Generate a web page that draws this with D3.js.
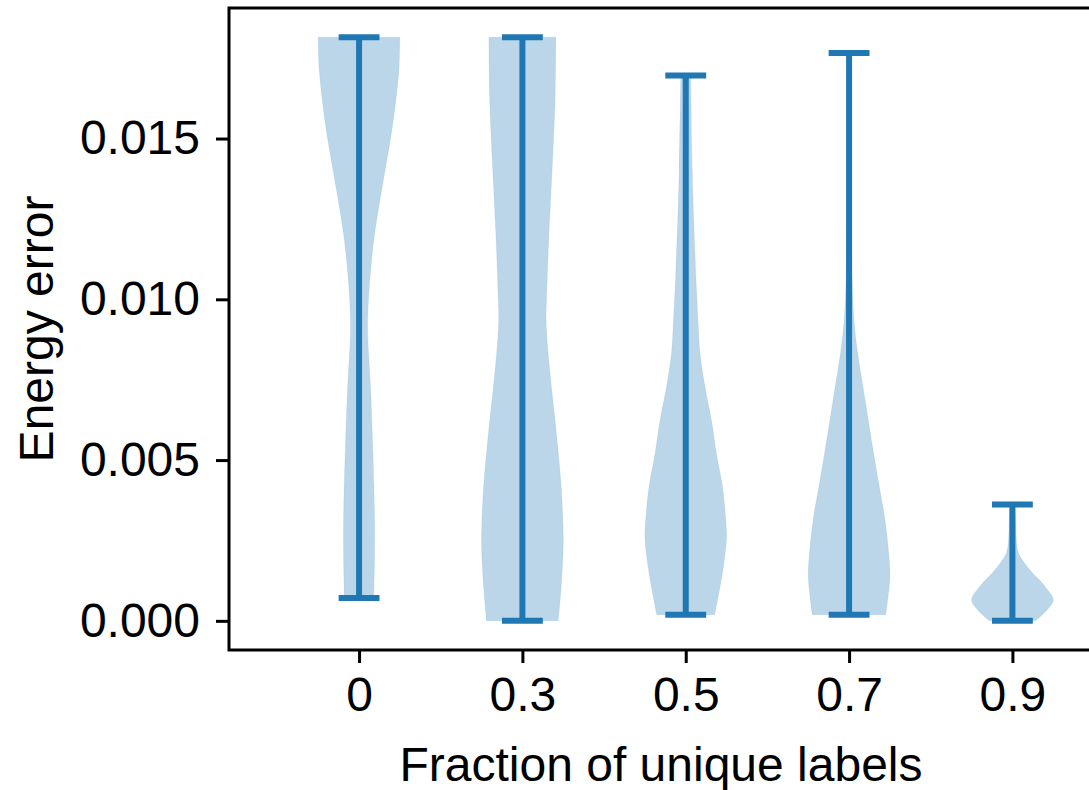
<!DOCTYPE html>
<html>
<head>
<meta charset="utf-8">
<script src="https://cdn.jsdelivr.net/npm/d3@7"></script>
<style>
  body { margin: 0; background: #fff; }
  svg text { font-family: "Liberation Sans", Arial, Helvetica, sans-serif; fill: #000; }
</style>
</head>
<body>
<div class="chart"></div>
<script>
// categories along the x axis (violins sit at positions 1..5)
const categories = ["0", "0.3", "0.5", "0.7", "0.9"];
const positions = [1, 2, 3, 4, 5];
const yTicks = [0, 0.005, 0.010, 0.015];

// extrema of each group (cap bars)
const mins = [0.00071, 0.0, 0.00019, 0.00019, 0.0];
const maxs = [0.01815, 0.01815, 0.01696, 0.01766, 0.00362];

// density profiles: [energy error, relative density]
const dens0 = [[0.01815, 1.0], [0.01721, 0.98], [0.01618, 0.9], [0.01515, 0.79], [0.01411, 0.65],
  [0.01308, 0.51], [0.01204, 0.38], [0.011, 0.29], [0.00997, 0.23], [0.00904, 0.21],
  [0.00728, 0.28], [0.00521, 0.34], [0.00314, 0.38], [0.0021, 0.38], [0.00071, 0.36]];
const dens1 = [[0.01815, 0.82], [0.01618, 0.8], [0.01411, 0.73], [0.01204, 0.65], [0.00997, 0.59],
  [0.00935, 0.58], [0.00832, 0.63], [0.00728, 0.71], [0.00624, 0.8], [0.00521, 0.88],
  [0.00417, 0.95], [0.00314, 0.99], [0.00231, 1.0], [0.00107, 0.95], [0.0, 0.88]];
const dens2 = [[0.01696, 0.12], [0.01403, 0.16], [0.01307, 0.18], [0.01065, 0.25], [0.00935, 0.3],
  [0.00832, 0.35], [0.00728, 0.47], [0.00624, 0.63], [0.00521, 0.75], [0.00417, 0.9],
  [0.00314, 0.98], [0.00262, 1.0], [0.00158, 0.91], [0.00019, 0.71]];
const dens3 = [[0.01766, 0.04], [0.0140, 0.04], [0.0115, 0.06], [0.01045, 0.08], [0.00935, 0.12],
  [0.00832, 0.21], [0.00728, 0.34], [0.00624, 0.47], [0.00521, 0.6], [0.00417, 0.74],
  [0.00314, 0.88], [0.0021, 0.97], [0.00137, 1.0], [0.00019, 0.9]];
const dens4 = [[0.00362, 0.06], [0.0030, 0.08], [0.00262, 0.09], [0.0021, 0.15], [0.00158, 0.43],
  [0.00107, 0.8], [0.00065, 1.0], [0.00034, 0.85], [0.0, 0.56]];
const densities = [dens0, dens1, dens2, dens3, dens4];

const svgWidth = 1089, svgHeight = 790;
const margin = { top: 8, right: 0, bottom: 140, left: 229 };
const width = 861;                     // right spine falls just outside the picture
const height = svgHeight - margin.top - margin.bottom;

const blue = "#1f77b4";

const svg = d3.select(".chart")
  .append("svg")
  .attr("width", svgWidth)
  .attr("height", svgHeight);

const chartGroup = svg.append("g")
  .attr("transform", `translate(${margin.left}, ${margin.top})`);

// scales
const x = d3.scaleLinear().domain([0.2037, 5.475]).range([0, width]);
const y = d3.scaleLinear().domain([-0.000907, 0.01906]).range([height, 0]);
const halfWidth = 0.25;   // violin half width in x units
const capHalf = 0.125;

// violins
positions.forEach((p, i) => {
  const area = d3.area()
    .curve(d3.curveCatmullRom)
    .y(d => y(d[0]))
    .x0(d => x(p - d[1] * halfWidth))
    .x1(d => x(p + d[1] * halfWidth));
  chartGroup.append("path")
    .datum(densities[i])
    .attr("d", area)
    .attr("fill", blue)
    .attr("fill-opacity", 0.3)
    .attr("stroke", blue)
    .attr("stroke-opacity", 0.08)
    .attr("stroke-width", 1);
});

// bars and caps
positions.forEach((p, i) => {
  chartGroup.append("line")
    .attr("x1", x(p)).attr("x2", x(p))
    .attr("y1", y(mins[i])).attr("y2", y(maxs[i]))
    .attr("stroke", blue).attr("stroke-width", 6);
  [mins[i], maxs[i]].forEach(v => {
    chartGroup.append("line")
      .attr("x1", x(p - capHalf)).attr("x2", x(p + capHalf))
      .attr("y1", y(v)).attr("y2", y(v))
      .attr("stroke", blue).attr("stroke-width", 6);
  });
});

// axes
const xAxis = d3.axisBottom(x)
  .tickValues(positions)
  .tickFormat((d, i) => categories[i])
  .tickSize(13).tickPadding(14);
const yAxis = d3.axisLeft(y)
  .tickValues(yTicks)
  .tickFormat(d3.format(".3f"))
  .tickSize(13).tickPadding(16);

const gx = chartGroup.append("g")
  .attr("transform", `translate(0, ${height})`)
  .call(xAxis);
const gy = chartGroup.append("g").call(yAxis);

[gx, gy].forEach(g => {
  g.select(".domain").remove();
  g.selectAll(".tick line").attr("stroke", "#000").attr("stroke-width", 3);
  g.selectAll(".tick text").attr("font-size", 48).attr("fill", "#000");
});

// spines (left, top, bottom; the right one is off the picture)
chartGroup.append("rect")
  .attr("x", 0).attr("y", 0)
  .attr("width", width + 4).attr("height", height)
  .attr("fill", "none")
  .attr("stroke", "#000")
  .attr("stroke-width", 3);

// axes labels
chartGroup.append("text")
  .attr("transform", "rotate(-90)")
  .attr("x", -height / 2)
  .attr("y", -margin.left + 53)
  .attr("text-anchor", "middle")
  .attr("font-size", 48)
  .text("Energy error");

chartGroup.append("text")
  .attr("x", 432)
  .attr("y", height + 131)
  .attr("text-anchor", "middle")
  .attr("font-size", 48)
  .text("Fraction of unique labels");
</script>
</body>
</html>
